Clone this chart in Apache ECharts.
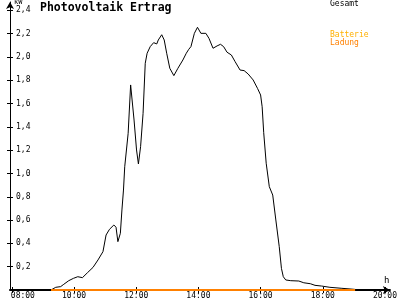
<!DOCTYPE html>
<html><head><meta charset="utf-8">
<script src="https://cdn.jsdelivr.net/npm/echarts@6/dist/echarts.min.js"></script>
<style>html,body{margin:0;padding:0;background:#fff}#c{width:400px;height:300px}</style>
</head><body><div id="c"></div>
<script>
// time in hours, power in kW
var gesamtTime = [7.94, 9.26, 9.41, 9.57, 9.67, 9.83, 9.98, 10.12, 10.27, 10.43, 10.61, 10.77, 10.93, 11.03, 11.14, 11.28, 11.35, 11.41, 11.49, 11.54, 11.59, 11.63, 11.74, 11.82, 11.93, 12.01, 12.07, 12.14, 12.22, 12.29, 12.35, 12.45, 12.56, 12.66, 12.71, 12.82, 12.90, 12.98, 13.08, 13.21, 13.34, 13.50, 13.61, 13.69, 13.76, 13.87, 13.97, 14.08, 14.24, 14.34, 14.47, 14.60, 14.71, 14.81, 14.92, 15.06, 15.18, 15.34, 15.47, 15.60, 15.76, 15.90, 16.00, 16.05, 16.10, 16.18, 16.28, 16.39, 16.49, 16.60, 16.67, 16.73, 16.81, 16.97, 17.23, 17.39, 17.60, 17.75, 17.96, 18.23, 18.59, 19.01, 19.17, 20.0];
var gesamtValues = [0, 0, 0.023, 0.029, 0.049, 0.080, 0.100, 0.114, 0.106, 0.148, 0.194, 0.258, 0.329, 0.472, 0.521, 0.558, 0.539, 0.415, 0.487, 0.687, 0.858, 1.058, 1.345, 1.760, 1.459, 1.202, 1.082, 1.230, 1.516, 1.946, 2.032, 2.089, 2.123, 2.112, 2.146, 2.191, 2.146, 2.032, 1.903, 1.840, 1.903, 1.974, 2.032, 2.066, 2.089, 2.203, 2.255, 2.203, 2.203, 2.160, 2.075, 2.095, 2.109, 2.089, 2.041, 2.017, 1.960, 1.888, 1.883, 1.854, 1.803, 1.731, 1.674, 1.573, 1.350, 1.088, 0.887, 0.815, 0.601, 0.372, 0.186, 0.114, 0.086, 0.080, 0.077, 0.062, 0.054, 0.040, 0.034, 0.023, 0.015, 0.006, 0, 0];
var ladungTime = [9.26, 19.04];
var ladungValues = [0, 0];
var xTicks = [8, 10, 12, 14, 16, 18, 20];
var xTickLabels = ['08:00', '10:00', '12:00', '14:00', '16:00', '18:00', '20:00'];
var yTicks = [0.2, 0.4, 0.6, 0.8, 1.0, 1.2, 1.4, 1.6, 1.8, 2.0, 2.2, 2.4];
var yTickLabels = ['0,2', '0,4', '0,6', '0,8', '1,0', '1,2', '1,4', '1,6', '1,8', '2,0', '2,2', '2,4'];
var seriesNames = ['Gesamt', 'Batterie', 'Ladung'];

function zip(a, b) { return a.map(function (v, i) { return [v, b[i]]; }); }
var mono = 'DejaVu Sans Mono';
var chart = echarts.init(document.getElementById('c'), null, { renderer: 'canvas' });
var xBase = { type: 'value', min: 7.94, max: 20.16, splitLine: { show: false } };
var yBase = { type: 'value', min: 0, max: 2.472, splitLine: { show: false } };
chart.setOption({
  animation: false,
  backgroundColor: '#ffffff',
  grid: { left: 10, right: 2, top: 2, bottom: 10, containLabel: false },
  xAxis: [
    Object.assign({}, xBase, {
      position: 'bottom',
      axisLine: { show: true, symbol: ['none', 'arrow'], symbolSize: [6, 7], lineStyle: { color: '#000', width: 2 } },
      axisTick: { show: true, inside: true, length: 3, customValues: xTicks, lineStyle: { color: '#000' } },
      axisLabel: { show: true, customValues: xTicks, margin: 2, color: '#000', fontFamily: mono, fontSize: 8,
        formatter: function (v) { var i = xTicks.indexOf(Math.round(v)); return i === 0 ? '{l|' + xTickLabels[i] + '}' : xTickLabels[i]; },
        rich: { l: { padding: [0, 0, 0, 22], fontFamily: mono, fontSize: 8, color: '#000' } } }
    }),
    Object.assign({}, xBase, {
      position: 'bottom',
      axisLine: { show: false },
      axisTick: { show: true, inside: false, length: 3, customValues: xTicks, lineStyle: { color: '#000' } },
      axisLabel: { show: false }
    })
  ],
  yAxis: [
    Object.assign({}, yBase, {
      position: 'left',
      axisLine: { show: true, symbol: ['none', 'arrow'], symbolSize: [6, 7], lineStyle: { color: '#000', width: 1 } },
      axisTick: { show: true, inside: true, length: 3, customValues: yTicks, lineStyle: { color: '#000' } },
      axisLabel: { show: true, inside: true, margin: 6, customValues: yTicks, color: '#000', fontFamily: mono, fontSize: 8,
        formatter: function (v) { var i = yTicks.findIndex(function (t) { return Math.abs(t - v) < 1e-6; }); return yTickLabels[i]; } }
    }),
    Object.assign({}, yBase, {
      position: 'left',
      axisLine: { show: false },
      axisTick: { show: true, inside: false, length: 3, customValues: yTicks, lineStyle: { color: '#000' } },
      axisLabel: { show: false }
    })
  ],
  series: [
    { name: seriesNames[0], type: 'line', data: zip(gesamtTime, gesamtValues), symbol: 'none', smooth: false,
      lineStyle: { color: '#000', width: 1 }, z: 2 },
    { name: seriesNames[2], type: 'line', data: zip(ladungTime, ladungValues), symbol: 'none',
      lineStyle: { color: '#ff8000', width: 2 }, z: 3 }
  ],
  graphic: [
    { type: 'text', left: 40, top: 2, style: { text: 'Photovoltaik Ertrag', fontFamily: mono, fontWeight: 'bold', fontSize: 11.5, fill: '#000' } },
    { type: 'text', left: 14, top: -1, style: { text: 'kW', fontFamily: mono, fontSize: 7, fill: '#000' } },
    { type: 'text', left: 384, top: 276, style: { text: 'h', fontFamily: mono, fontSize: 9, fill: '#000' } },
    { type: 'text', left: 330, top: 0, style: { text: seriesNames[0], fontFamily: mono, fontSize: 8, fill: '#000' } },
    { type: 'text', left: 330, top: 31, style: { text: seriesNames[1], fontFamily: mono, fontSize: 8, fill: '#ffb000' } },
    { type: 'text', left: 330, top: 39, style: { text: seriesNames[2], fontFamily: mono, fontSize: 8, fill: '#ff8000' } }
  ]
});
</script></body></html>
